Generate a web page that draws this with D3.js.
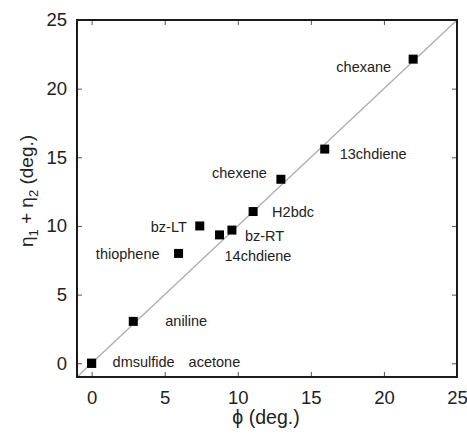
<!DOCTYPE html>
<html>
<head>
<meta charset="utf-8">
<script src="https://cdn.jsdelivr.net/npm/d3@7"></script>
<style>
  body { margin: 0; background: #fff; }
  text { font-family: "Liberation Sans", Arial, sans-serif; fill: #222; }
</style>
</head>
<body>
<div id="chart"></div>
<script>
// data
var names = ["dmsulfide", "acetone", "aniline", "thiophene", "bz-LT", "14chdiene", "bz-RT", "H2bdc", "chexene", "13chdiene", "chexane"];
var phi = [0, 0, 2.85, 5.95, 7.4, 8.75, 9.6, 11.05, 12.95, 15.95, 22.0];
var eta = [0, 0, 3.05, 8.0, 10.0, 9.35, 9.7, 11.05, 13.4, 15.6, 22.15];
var tickValues = [0, 5, 10, 15, 20, 25];

// label placement (pixels from marker centre)
var labelPos = {
  "dmsulfide": [21, -1, "start"],
  "acetone": [97, -1, "start"],
  "aniline": [32, 0, "start"],
  "thiophene": [-19, 1, "end"],
  "bz-LT": [-13, 1, "end"],
  "14chdiene": [5, 21, "start"],
  "bz-RT": [13, 6, "start"],
  "H2bdc": [19, 0, "start"],
  "chexene": [-14, -6, "end"],
  "13chdiene": [15, 5, "start"],
  "chexane": [-22, 8, "end"]
};

var svgWidth = 467, svgHeight = 439;
var plotLeft = 77, plotRight = 457, plotTop = 20, plotBottom = 377;

var svg = d3.select("#chart").append("svg")
  .attr("width", svgWidth)
  .attr("height", svgHeight);

var x = d3.scaleLinear().domain([-1, 25]).range([plotLeft, plotRight]);
var y = d3.scaleLinear().domain([-1, 25]).range([plotBottom, plotTop]);

var points = names.map(function(n, i) { return {name: n, phi: phi[i], eta: eta[i]}; });

// y = x reference line
svg.append("line")
  .attr("x1", x(-1)).attr("y1", y(-1))
  .attr("x2", x(25)).attr("y2", y(25))
  .attr("stroke", "#adadad")
  .attr("stroke-width", 1.3);

// axes: ticks inward on all four sides
function styleAxis(g) {
  g.select(".domain").remove();
  g.selectAll(".tick line").attr("stroke", "#555").attr("stroke-width", 1);
  g.selectAll(".tick text").style("font-size", "18.5px").attr("fill", "#222");
}

svg.append("g")
  .attr("transform", "translate(0," + plotBottom + ")")
  .call(d3.axisBottom(x).tickValues(tickValues).tickSizeInner(-5).tickPadding(14))
  .call(styleAxis);

svg.append("g")
  .attr("transform", "translate(" + plotLeft + ",0)")
  .call(d3.axisLeft(y).tickValues(tickValues).tickSizeInner(-5).tickPadding(10))
  .call(styleAxis);

svg.append("g")
  .attr("transform", "translate(0," + plotTop + ")")
  .call(d3.axisTop(x).tickValues(tickValues).tickSizeInner(-5).tickFormat(""))
  .call(styleAxis);

svg.append("g")
  .attr("transform", "translate(" + plotRight + ",0)")
  .call(d3.axisRight(y).tickValues(tickValues).tickSizeInner(-5).tickFormat(""))
  .call(styleAxis);

// frame
svg.append("rect")
  .attr("x", plotLeft).attr("y", plotTop)
  .attr("width", plotRight - plotLeft).attr("height", plotBottom - plotTop)
  .attr("fill", "none")
  .attr("stroke", "#1a1a1a")
  .attr("stroke-width", 2);

// markers
var size = 9;
svg.selectAll(".pt")
  .data(points)
  .enter()
  .append("rect")
  .attr("class", "pt")
  .attr("x", function(d) { return x(d.phi) - size / 2; })
  .attr("y", function(d) { return y(d.eta) - size / 2; })
  .attr("width", size)
  .attr("height", size)
  .attr("fill", "#000");

// labels
svg.selectAll(".lbl")
  .data(points)
  .enter()
  .append("text")
  .attr("class", "lbl")
  .attr("x", function(d) { return x(d.phi) + labelPos[d.name][0]; })
  .attr("y", function(d) { return y(d.eta) + labelPos[d.name][1]; })
  .attr("dy", "0.35em")
  .attr("text-anchor", function(d) { return labelPos[d.name][2]; })
  .style("font-size", "14.5px")
  .attr("fill", "#333")
  .text(function(d) { return d.name; });

// axis titles
svg.append("text")
  .attr("x", 266)
  .attr("y", 424)
  .attr("text-anchor", "middle")
  .style("font-size", "19.5px")
  .text("\u03d5 (deg.)");

var yt = svg.append("text")
  .attr("transform", "translate(33," + 191 + ") rotate(-90)")
  .attr("text-anchor", "middle")
  .style("font-size", "19px");
yt.append("tspan").text("\u03b7");
yt.append("tspan").attr("dy", 5).style("font-size", "13px").text("1");
yt.append("tspan").attr("dy", -5).text(" + \u03b7");
yt.append("tspan").attr("dy", 5).style("font-size", "13px").text("2");
yt.append("tspan").attr("dy", -5).text(" (deg.)");
</script>
</body>
</html>
